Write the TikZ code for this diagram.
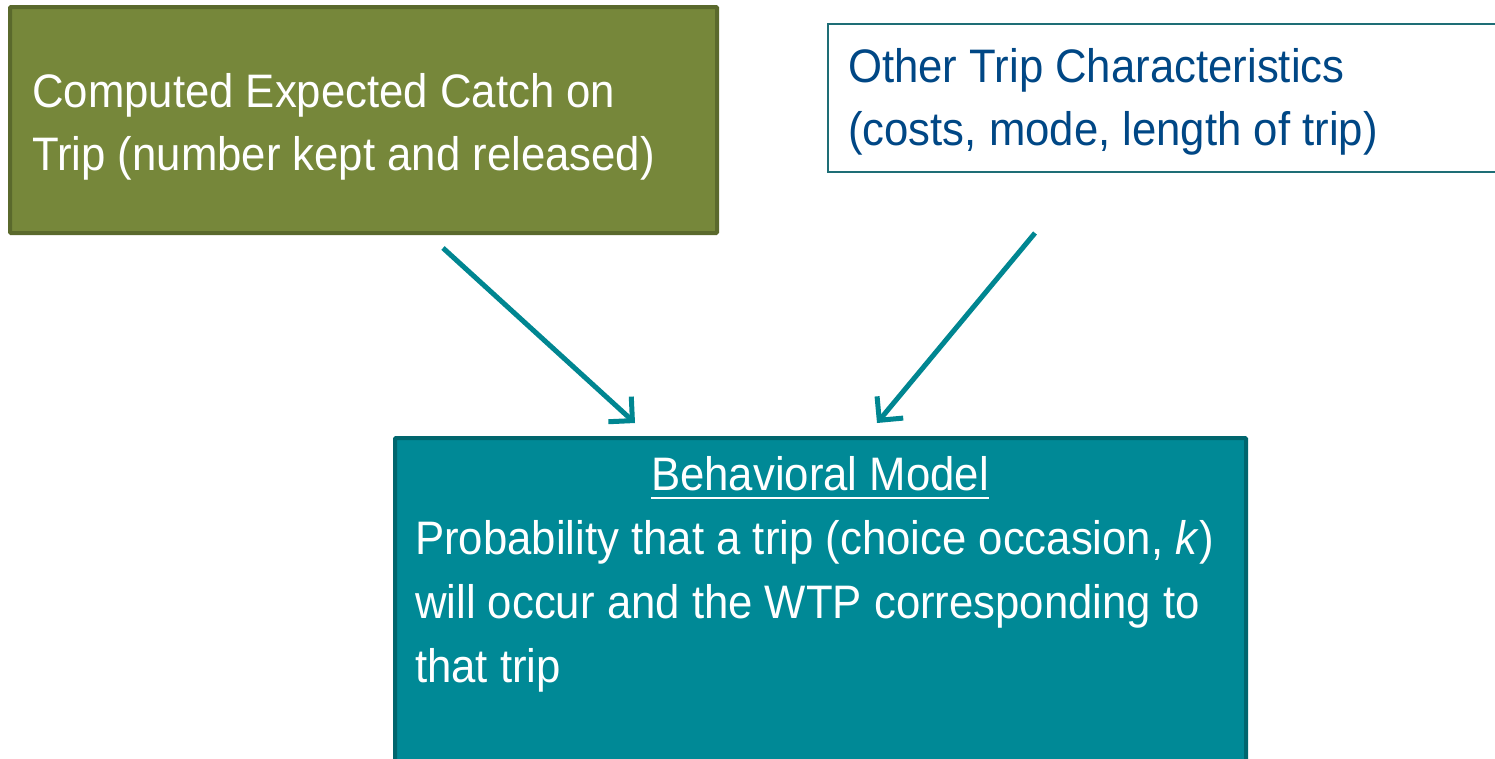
\documentclass[tikz,border=0pt]{standalone}
\usepackage{fontspec}
\setmainfont{Liberation Sans}[FakeStretch=0.93]
\usetikzlibrary{arrows.meta}

\definecolor{olivefill}{RGB}{118,135,58}
\definecolor{oliveedge}{RGB}{90,105,44}
\definecolor{tealfill}{RGB}{0,137,150}
\definecolor{tealedge}{RGB}{0,102,110}
\definecolor{thinteal}{RGB}{30,110,118}
\definecolor{arrowteal}{RGB}{0,134,145}
\definecolor{navytext}{RGB}{0,71,133}

\tikzset{
  catchbox/.style={draw=oliveedge, fill=olivefill, line width=4pt, rounded corners=1pt, inner sep=0pt},
  tripbox/.style={draw=thinteal, fill=white, line width=2pt, inner sep=0pt},
  modelbox/.style={draw=tealedge, fill=tealfill, line width=4pt, rounded corners=1pt, inner sep=0pt},
  boxtext/.style={inner sep=0pt, anchor=base west, font=\fontsize{47}{47}\selectfont},
  flow/.style={draw=arrowteal, line width=5pt, -{Straight Barb[length=17pt,width=34pt,line width=5pt]}},
}

\begin{document}
\begin{tikzpicture}[x=1pt, y=-1pt]
\useasboundingbox (0,0) rectangle (1495,758);
\clip (0,0) rectangle (1495,758);

% boxes
\node[catchbox, minimum width=707pt, minimum height=226pt] (catch) at (363.5,120) {};
\node[tripbox, minimum width=700pt, minimum height=148pt] (trip) at (1178,98) {};
\node[modelbox, minimum width=851pt, minimum height=340pt] (model) at (820.5,608) {};

% texts of the catch box
\node[boxtext, text=white] (catch1) at (32,107) {Computed Expected Catch on};
\node[boxtext, text=white] (catch2) at (32,170) {Trip (number kept and released)};

% texts of the trip box
\node[boxtext, text=navytext] (trip1) at (848,82) {Other Trip Characteristics};
\node[boxtext, text=navytext] (trip2) at (848,145) {(costs, mode, length of trip)};

% texts of the model box
\node[boxtext, text=white, anchor=base] (title) at (820,490) {Behavioral Model};
\draw[white, line width=2pt] ([yshift=-8pt]title.base west) -- ([yshift=-8pt]title.base east);
\node[boxtext, text=white] (model1) at (415,554) {Probability that a trip (choice occasion, \textit{k})};
\node[boxtext, text=white] (model2) at (415,618) {will occur and the WTP corresponding to};
\node[boxtext, text=white] (model3) at (415,682) {that trip};

% connectors
\coordinate (catchout) at (443,248);
\coordinate (tripout) at (1035,233);
\coordinate (modelinL) at (635,423);
\coordinate (modelinR) at (877,423);
\draw[flow] (catchout) -- (modelinL);
\draw[flow] (tripout) -- (modelinR);
\end{tikzpicture}
\end{document}
